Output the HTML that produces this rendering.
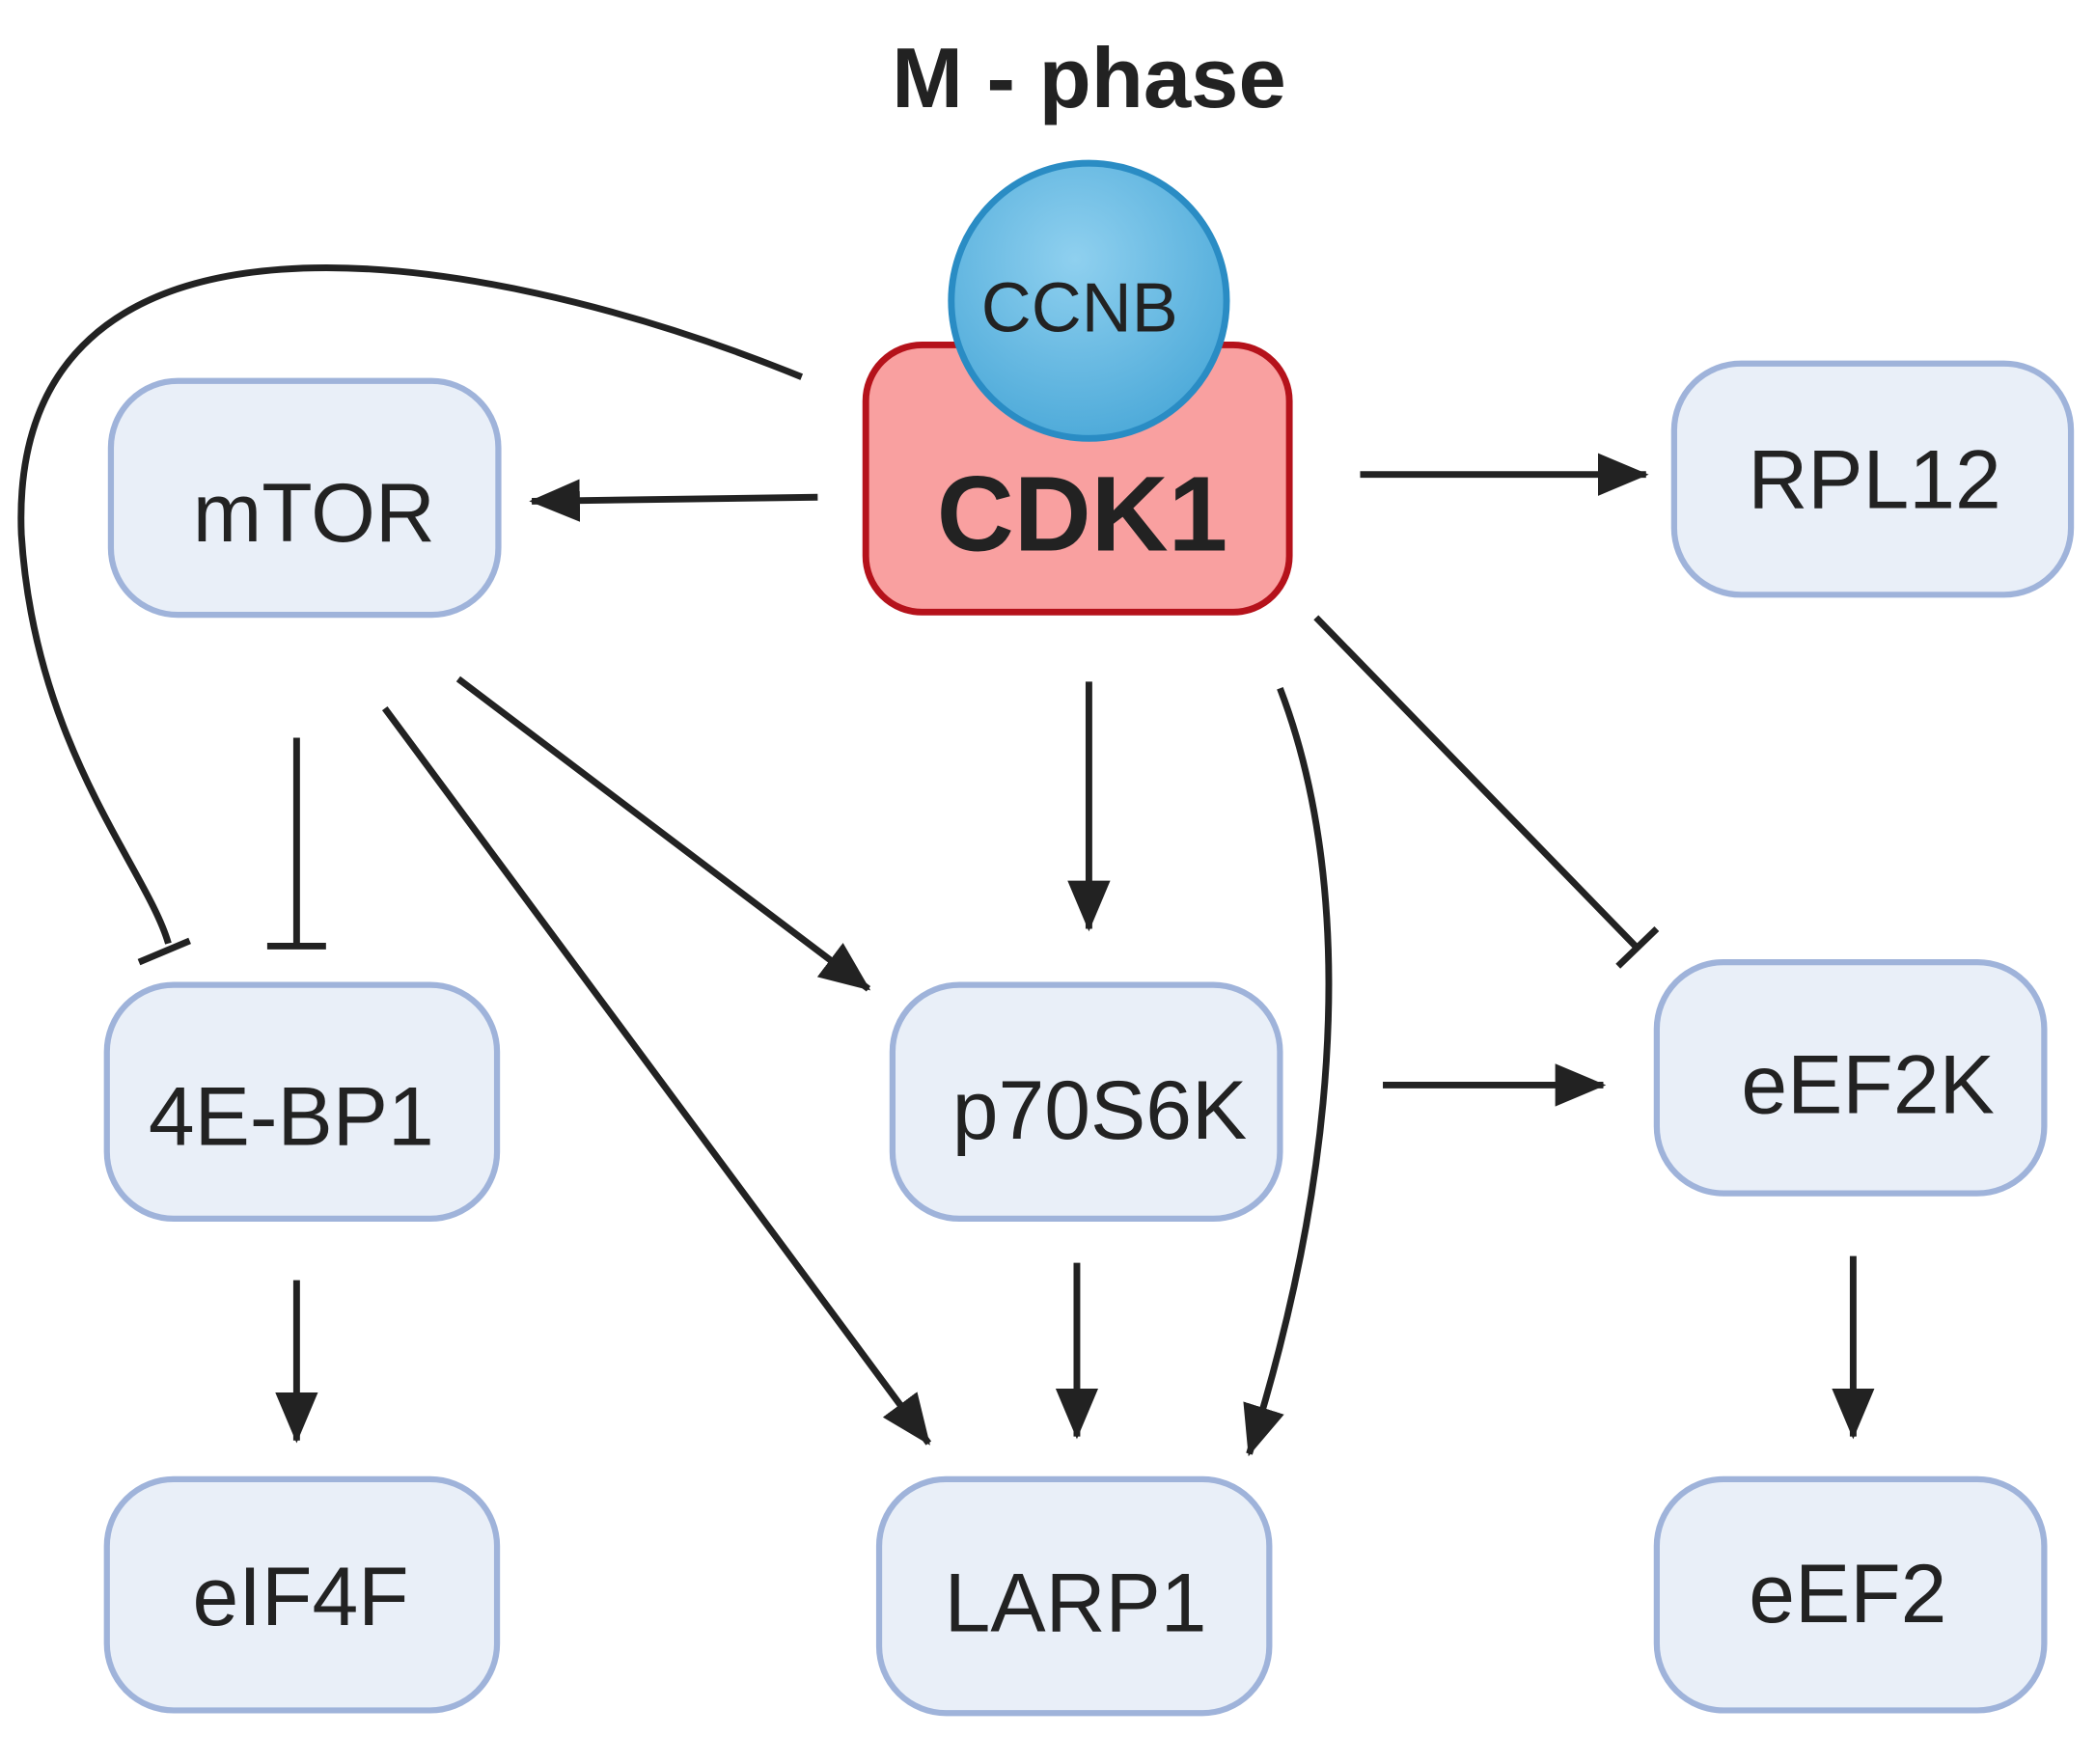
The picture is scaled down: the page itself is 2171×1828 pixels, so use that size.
<!DOCTYPE html>
<html><head><meta charset="utf-8"><style>
html,body{margin:0;padding:0;background:#fff;}
svg{display:block;}
text{font-family:"Liberation Sans",sans-serif;}
</style></head><body>
<svg width="2171" height="1828" viewBox="0 0 1568 1320" xmlns="http://www.w3.org/2000/svg">
<defs>
<marker id="ah" markerUnits="userSpaceOnUse" markerWidth="40" markerHeight="34" refX="36" refY="17" orient="auto">
<path d="M0,1 L38,17 L0,33 Z" fill="#222"/>
</marker>
<radialGradient id="cg" cx="0.45" cy="0.35" r="0.7">
<stop offset="0" stop-color="#8fd0ef"/><stop offset="1" stop-color="#4aa8d8"/>
</radialGradient>
</defs>
<rect width="1568" height="1320" fill="#fff"/>
<text x="815" y="80" font-size="64" font-weight="bold" text-anchor="middle" fill="#222">M - phase</text>

<g fill="#e9eff8" stroke="#9fb3da" stroke-width="4.5">
<rect x="83" y="285" width="290" height="175" rx="50"/>
<rect x="1253" y="272" width="297" height="173" rx="50"/>
<rect x="80" y="737" width="292" height="175" rx="50"/>
<rect x="668" y="737" width="290" height="175" rx="50"/>
<rect x="1240" y="720" width="290" height="173" rx="50"/>
<rect x="80" y="1107" width="292" height="173" rx="50"/>
<rect x="658" y="1107" width="292" height="175" rx="50"/>
<rect x="1240" y="1107" width="290" height="173" rx="50"/>
</g>
<g font-size="62" fill="#222" text-anchor="middle">
<text x="235" y="405">mTOR</text>
<text x="1403" y="380">RPL12</text>
<text x="218" y="857">4E-BP1</text>
<text x="823" y="852">p70S6K</text>
<text x="1398" y="833">eEF2K</text>
<text x="225" y="1216">eIF4F</text>
<text x="805" y="1221">LARP1</text>
<text x="1383" y="1214">eEF2</text>
</g>

<rect x="648" y="258" width="317" height="200" rx="42" fill="#f9a0a0" stroke="#b5121b" stroke-width="5"/>
<text x="810" y="412" font-size="80" font-weight="bold" text-anchor="middle" fill="#222">CDK1</text>
<circle cx="815" cy="225" r="103" fill="url(#cg)" stroke="#2a8cc4" stroke-width="5"/>
<text x="808" y="248" font-size="52" text-anchor="middle" fill="#222">CCNB</text>

<g stroke="#222" stroke-width="5" fill="none">
<line x1="612" y1="372" x2="398" y2="375" marker-end="url(#ah)"/>
<line x1="1018" y1="355" x2="1232" y2="355" marker-end="url(#ah)"/>
<path d="M600,282 C350,180 5,130 16,400 C26,560 110,650 126,706"/>
<line x1="104" y1="720" x2="142" y2="704"/>
<line x1="222" y1="552" x2="222" y2="708"/>
<line x1="200" y1="708" x2="244" y2="708"/>
<line x1="288" y1="530" x2="695" y2="1080" marker-end="url(#ah)"/>
<line x1="343" y1="508" x2="650" y2="740" marker-end="url(#ah)"/>
<line x1="815" y1="510" x2="815" y2="695" marker-end="url(#ah)"/>
<line x1="985" y1="462" x2="1225" y2="709"/>
<line x1="1211" y1="723" x2="1240" y2="695"/>
<path d="M958,515 C1010,650 1010,850 935,1088" marker-end="url(#ah)"/>
<line x1="1035" y1="812" x2="1200" y2="812" marker-end="url(#ah)"/>
<line x1="806" y1="945" x2="806" y2="1075" marker-end="url(#ah)"/>
<line x1="222" y1="958" x2="222" y2="1078" marker-end="url(#ah)"/>
<line x1="1387" y1="940" x2="1387" y2="1075" marker-end="url(#ah)"/>
</g>
</svg>
</body></html>
